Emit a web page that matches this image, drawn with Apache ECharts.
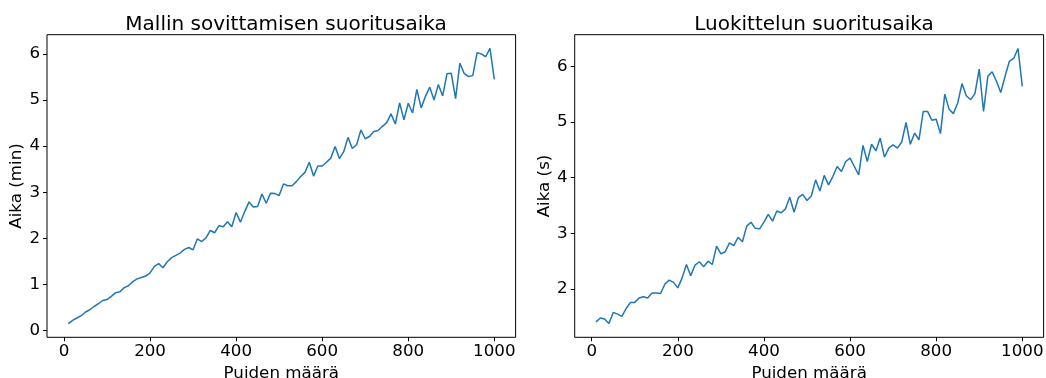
<!DOCTYPE html>
<html>
<head>
<meta charset="utf-8">
<script src="https://cdn.jsdelivr.net/npm/echarts@6/dist/echarts.min.js"></script>
<style>
  html, body { margin: 0; padding: 0; background: #fff; }
  #chart { width: 1046px; height: 378px; }
</style>
</head>
<body>
<div id="chart"></div>
<script>
// Number of trees in the forest (x axis of both panels)
const trees = [
  10, 20, 30, 40, 50, 60, 70, 80, 90, 100,
  110, 120, 130, 140, 150, 160, 170, 180, 190, 200,
  210, 220, 230, 240, 250, 260, 270, 280, 290, 300,
  310, 320, 330, 340, 350, 360, 370, 380, 390, 400,
  410, 420, 430, 440, 450, 460, 470, 480, 490, 500,
  510, 520, 530, 540, 550, 560, 570, 580, 590, 600,
  610, 620, 630, 640, 650, 660, 670, 680, 690, 700,
  710, 720, 730, 740, 750, 760, 770, 780, 790, 800,
  810, 820, 830, 840, 850, 860, 870, 880, 890, 900,
  910, 920, 930, 940, 950, 960, 970, 980, 990, 1000
];

// Model fitting time (minutes)
const fitMinutes = [
  0.15, 0.22, 0.27, 0.32, 0.40, 0.45, 0.52, 0.58, 0.65, 0.67,
  0.74, 0.82, 0.84, 0.93, 0.97, 1.06, 1.12, 1.15, 1.18, 1.25,
  1.39, 1.45, 1.36, 1.49, 1.58, 1.63, 1.68, 1.76, 1.80, 1.75,
  1.99, 1.93, 2.01, 2.17, 2.12, 2.27, 2.25, 2.36, 2.25, 2.56,
  2.35, 2.58, 2.79, 2.68, 2.69, 2.96, 2.76, 2.98, 2.97, 2.93,
  3.18, 3.14, 3.14, 3.23, 3.34, 3.43, 3.65, 3.35, 3.57, 3.57,
  3.65, 3.74, 3.99, 3.73, 3.88, 4.19, 3.95, 4.03, 4.35, 4.16,
  4.21, 4.32, 4.34, 4.43, 4.51, 4.70, 4.48, 4.94, 4.57, 4.93,
  4.72, 5.23, 4.83, 5.08, 5.28, 5.00, 5.34, 5.09, 5.57, 5.58,
  5.03, 5.80, 5.58, 5.51, 5.53, 6.03, 6.00, 5.94, 6.12, 5.45
];

// Classification time (seconds)
const predictSeconds = [
  1.41, 1.48, 1.46, 1.38, 1.58, 1.55, 1.51, 1.65, 1.76, 1.76,
  1.84, 1.86, 1.84, 1.93, 1.93, 1.92, 2.09, 2.16, 2.12, 2.02,
  2.20, 2.44, 2.24, 2.43, 2.49, 2.40, 2.50, 2.44, 2.77, 2.63,
  2.67, 2.83, 2.78, 2.93, 2.85, 3.13, 3.20, 3.09, 3.08, 3.20,
  3.34, 3.22, 3.40, 3.37, 3.44, 3.65, 3.38, 3.64, 3.70, 3.59,
  3.67, 3.96, 3.76, 4.04, 3.87, 4.02, 4.20, 4.11, 4.29, 4.35,
  4.20, 4.05, 4.58, 4.29, 4.60, 4.48, 4.71, 4.37, 4.53, 4.59,
  4.53, 4.64, 4.99, 4.60, 4.80, 4.68, 5.19, 5.19, 5.03, 5.05,
  4.79, 5.50, 5.23, 5.15, 5.34, 5.69, 5.47, 5.40, 5.51, 5.95,
  5.19, 5.82, 5.90, 5.73, 5.53, 5.82, 6.09, 6.14, 6.32, 5.64
];

// Tick positions
const xTicks = [0, 200, 400, 600, 800, 1000];
const yTicksFit = [0, 1, 2, 3, 4, 5, 6];
const yTicksPredict = [2, 3, 4, 5, 6];

const titles = ['Mallin sovittamisen suoritusaika', 'Luokittelun suoritusaika'];
const xName = 'Puiden määrä';
const yNames = ['Aika (min)', 'Aika (s)'];

const FONT = 'DejaVu Sans';
const TICK_SIZE = 16.7;
const TITLE_SIZE = 20;
const LINE_COLOR = '#1f77b4';

// Data extent widened by 5% on each side
function pad(values) {
  const lo = Math.min(...values), hi = Math.max(...values);
  const m = (hi - lo) * 0.05;
  return [lo - m, hi + m];
}

const [xMin, xMax] = pad(trees);
const yFit = pad(fitMinutes);
const yPred = pad(predictSeconds);

const textStyle = { fontFamily: FONT, fontSize: TICK_SIZE, color: '#000' };

function xAxis(gridIndex) {
  return {
    type: 'value', gridIndex, min: xMin, max: xMax,
    name: xName, nameLocation: 'middle', nameGap: 26,
    nameTextStyle: textStyle,
    axisLine: { show: false, onZero: false },
    axisTick: { show: true, length: 4, customValues: xTicks, lineStyle: { color: '#000', width: 1 } },
    axisLabel: Object.assign({ customValues: xTicks, margin: 6, formatter: v => String(v) }, textStyle),
    splitLine: { show: false }
  };
}

function yAxis(gridIndex, range, ticks, name) {
  return {
    type: 'value', gridIndex, min: range[0], max: range[1],
    name, nameLocation: 'middle', nameGap: 20,
    nameTextStyle: textStyle,
    axisLine: { show: false, onZero: false },
    axisTick: { show: true, length: 4, customValues: ticks, lineStyle: { color: '#000', width: 1 } },
    axisLabel: Object.assign({ customValues: ticks, margin: 7, formatter: v => String(v) }, textStyle),
    splitLine: { show: false }
  };
}

const chart = echarts.init(document.getElementById('chart'), null, { renderer: 'canvas' });

const gridBase = {
  top: 34.7, bottom: 40.7, show: true, borderColor: '#000', borderWidth: 1,
  backgroundColor: 'transparent', containLabel: false, outerBoundsMode: 'none'
};

chart.setOption({
  backgroundColor: '#fff',
  animation: false,
  title: [
    { text: titles[0], left: 281, top: 10, textAlign: 'center',
      textStyle: { fontFamily: FONT, fontSize: TITLE_SIZE, fontWeight: 'normal', color: '#000' } },
    { text: titles[1], left: 809, top: 10, textAlign: 'center',
      textStyle: { fontFamily: FONT, fontSize: TITLE_SIZE, fontWeight: 'normal', color: '#000' } }
  ],
  grid: [
    Object.assign({ left: 47, right: 530.4 }, gridBase),
    Object.assign({ left: 574.7, right: 2.4 }, gridBase)
  ],
  xAxis: [xAxis(0), xAxis(1)],
  yAxis: [
    yAxis(0, yFit, yTicksFit, yNames[0]),
    yAxis(1, yPred, yTicksPredict, yNames[1])
  ],
  series: [
    { type: 'line', xAxisIndex: 0, yAxisIndex: 0, showSymbol: false,
      data: trees.map((t, i) => [t, fitMinutes[i]]),
      lineStyle: { color: LINE_COLOR, width: 1.5 }, itemStyle: { color: LINE_COLOR } },
    { type: 'line', xAxisIndex: 1, yAxisIndex: 1, showSymbol: false,
      data: trees.map((t, i) => [t, predictSeconds[i]]),
      lineStyle: { color: LINE_COLOR, width: 1.5 }, itemStyle: { color: LINE_COLOR } }
  ]
});
</script>
</body>
</html>
